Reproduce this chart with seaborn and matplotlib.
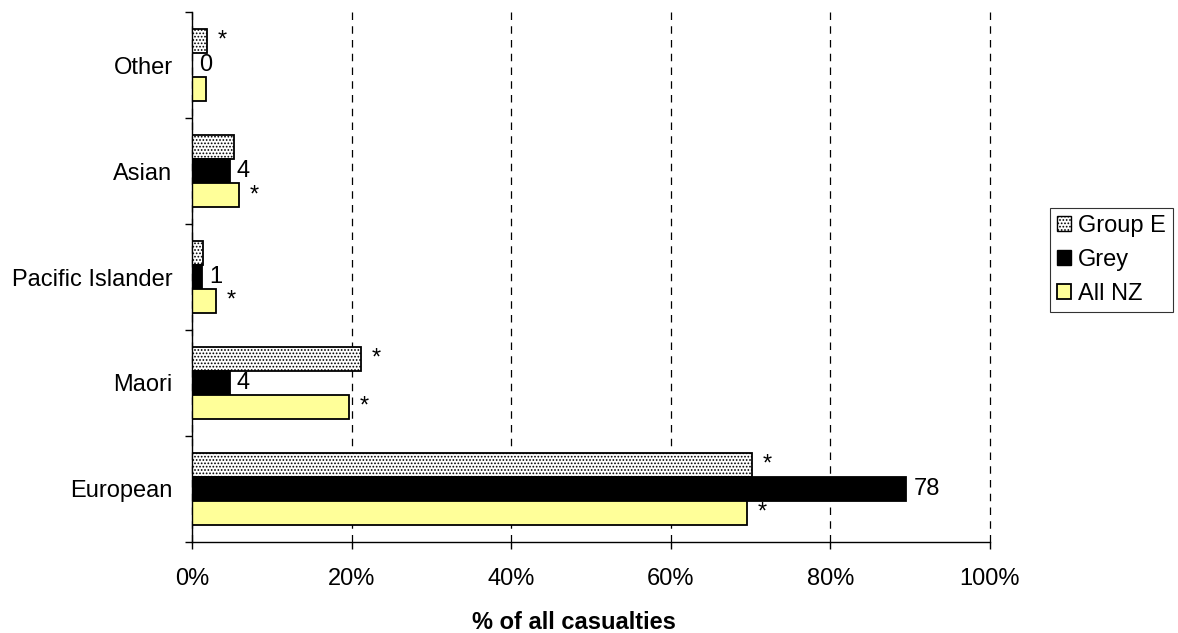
import pandas as pd
import seaborn as sns
import matplotlib.pyplot as plt
from matplotlib.patches import Patch

# ---------------------------------------------------------------------------
# DATA
# ---------------------------------------------------------------------------
ethnicity = ['Other', 'Asian', 'Pacific Islander', 'Maori', 'European']
series = ['Group E', 'Grey', 'All NZ']
group_e = [1.9, 5.2, 1.4, 21.2, 70.2]
grey = [0.0, 4.7, 1.3, 4.7, 89.5]
all_nz = [1.7, 5.9, 3.0, 19.7, 69.6]

# labels printed beside the bars
grey_counts = ['0', '4', '1', '4', '78']
group_e_star = ['*', '', '', '*', '*']
all_nz_star = ['', '*', '*', '*', '*']

rows = []
for name, vals in zip(series, [group_e, grey, all_nz]):
    for eth, v in zip(ethnicity, vals):
        rows.append({'Ethnicity': eth, 'Series': name, 'Pct': v})
df = pd.DataFrame(rows)

# ---------------------------------------------------------------------------
# PLOT
# ---------------------------------------------------------------------------
sns.set_theme(style='white')
plt.rcParams['font.family'] = ['Liberation Sans', 'DejaVu Sans']
plt.rcParams['hatch.linewidth'] = 0.8
plt.rcParams['text.color'] = 'black'
plt.rcParams['xtick.color'] = 'black'
plt.rcParams['ytick.color'] = 'black'
plt.rcParams['axes.labelcolor'] = 'black'

fig = plt.figure(figsize=(11.78, 6.33), dpi=100)
ax = fig.add_axes([0.163, 0.1438, 0.6774, 0.8372])

colors = ['white', 'black', '#ffff99']
sns.barplot(data=df, y='Ethnicity', x='Pct', hue='Series', order=ethnicity,
            hue_order=series, palette=colors, orient='h', width=0.68,
            saturation=1, edgecolor='black', linewidth=1.3, legend=False, ax=ax)

# dotted fill for Group E
for bar in ax.containers[0]:
    bar.set_hatch('.....')
    bar.set_edgecolor('black')

ax.set_xlim(0, 100)
ax.set_ylim(4.5, -0.5)
ax.set_xticks(range(0, 101, 20))
ax.set_xticklabels([f'{t}%' for t in range(0, 101, 20)])
ax.xaxis.grid(True, linestyle=(0, (6, 5)), color='black', linewidth=0.9)
for gl in ax.get_xgridlines():
    gl.set_clip_on(False)
ax.set_axisbelow(True)

ax.set_ylabel('')
ax.set_xlabel('% of all casualties', fontsize=17, fontweight='bold', labelpad=15)
ax.xaxis.label.set_x(0.479)

for side in ['top', 'right']:
    ax.spines[side].set_visible(False)
for side in ['left', 'bottom']:
    ax.spines[side].set_color('black')
    ax.spines[side].set_linewidth(1.0)

ax.tick_params(axis='x', direction='out', length=5, width=1,
               labelsize=17, pad=14, bottom=True)
ax.tick_params(axis='y', which='major', length=0, labelsize=17, pad=14)
ax.set_yticks([i + 0.5 for i in range(-1, 5)], minor=True)
ax.tick_params(axis='y', which='minor', direction='out', length=5, width=1,
               left=True)

# bar annotations
for c, labels, dx in [(ax.containers[0], group_e_star, 1.3),
                      (ax.containers[1], grey_counts, 0.9),
                      (ax.containers[2], all_nz_star, 1.3)]:
    for bar, lab in zip(c, labels):
        if not lab:
            continue
        y = bar.get_y() + bar.get_height() / 2
        ax.text(bar.get_width() + dx, y, lab, ha='left', va='center',
                fontsize=17, color='black')

handles = [Patch(facecolor=colors[0], edgecolor='black', hatch='.....'),
           Patch(facecolor=colors[1], edgecolor='black'),
           Patch(facecolor=colors[2], edgecolor='black', linewidth=1.3)]
leg = fig.legend(handles, series, loc='center left',
                 bbox_to_anchor=(0.8913, 0.5893), fontsize=17, frameon=True,
                 fancybox=False, edgecolor='black', handlelength=0.6,
                 handleheight=0.6, handletextpad=0.3, borderpad=0.3,
                 labelspacing=0.52, borderaxespad=0)
leg.get_frame().set_linewidth(0.8)

plt.savefig('out.png', dpi=100)
